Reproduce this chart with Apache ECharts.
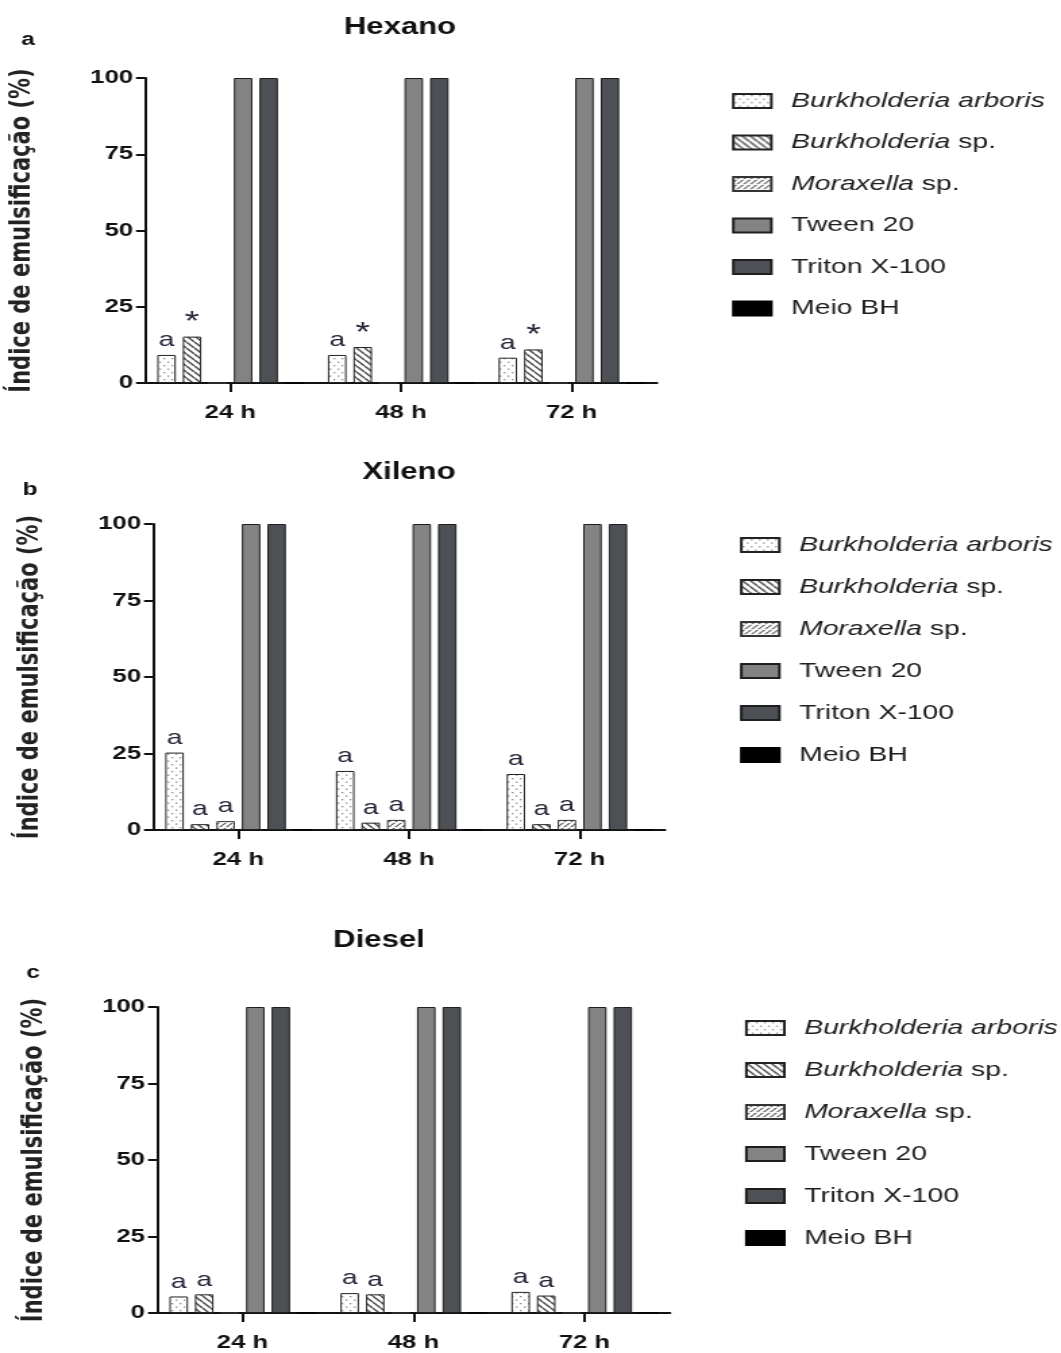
<!DOCTYPE html>
<html>
<head>
<meta charset="utf-8">
<script src="https://cdn.jsdelivr.net/npm/echarts@6/dist/echarts.min.js"></script>
<style>
html,body{margin:0;padding:0;background:#fff;overflow:hidden;}
#wrap{width:1061px;height:1353px;overflow:hidden;}
#chart{height:1353px;transform-origin:0 0;}
</style>
</head>
<body>
<div id="wrap"><div id="chart"></div></div>
<script>
// ---------- DATA ----------
const categories = ['24 h', '48 h', '72 h'];
const seriesNames = ['Burkholderia arboris', 'Burkholderia sp.', 'Moraxella sp.', 'Tween 20', 'Triton X-100', 'Meio BH'];
const panelTitles = ['Hexano', 'Xileno', 'Diesel'];
const panelLetters = ['a', 'b', 'c'];
const yTicks = [0, 25, 50, 75, 100];
const yAxisTitle = 'Índice de emulsificação (%)';

// Hexano
const hexArboris = [9.2, 9.2, 8.3];
const hexBurkSp = [15.2, 11.8, 11.0];
const hexMoraxella = [0, 0, 0];
const hexTween = [100, 100, 100];
const hexTriton = [100, 100, 100];
const hexMeio = [0, 0, 0];
const hexArborisMarks = ['a', 'a', 'a'];
const hexBurkSpMarks = ['*', '*', '*'];
const hexMoraxellaMarks = ['', '', ''];

// Xileno
const xilArboris = [25.3, 19.3, 18.3];
const xilBurkSp = [1.9, 2.4, 1.9];
const xilMoraxella = [2.9, 3.3, 3.3];
const xilTween = [100, 100, 100];
const xilTriton = [100, 100, 100];
const xilMeio = [0, 0, 0];
const xilArborisMarks = ['a', 'a', 'a'];
const xilBurkSpMarks = ['a', 'a', 'a'];
const xilMoraxellaMarks = ['a', 'a', 'a'];

// Diesel
const dieArboris = [5.4, 6.5, 6.9];
const dieBurkSp = [6.1, 6.1, 5.7];
const dieMoraxella = [0, 0, 0];
const dieTween = [100, 100, 100];
const dieTriton = [100, 100, 100];
const dieMeio = [0, 0, 0];
const dieArborisMarks = ['a', 'a', 'a'];
const dieBurkSpMarks = ['a', 'a', 'a'];
const dieMoraxellaMarks = ['', '', ''];

// ---------- LAYOUT (the whole figure is horizontally stretched like the source) ----------
const SX = 1.35;
const CW = 1061 / SX;
const px = v => v / SX;
document.getElementById('chart').style.width = CW + 'px';
document.getElementById('chart').style.transform = 'scaleX(' + SX + ')';

const FONT = '"Liberation Sans", Arial, sans-serif';

// ---------- PATTERNS ----------
function makeTile(w, h, draw) {
  const c = document.createElement('canvas');
  c.width = w; c.height = h;
  const g = c.getContext('2d');
  g.fillStyle = '#ffffff'; g.fillRect(0, 0, w, h);
  draw(g);
  return c;
}
const dotTile = makeTile(6, 7, g => {
  g.fillStyle = '#8a8a8a';
  g.fillRect(1, 1, 1.3, 1.3);
  g.fillRect(4, 4.5, 1.3, 1.3);
});
const backTile = makeTile(6, 6, g => {
  g.strokeStyle = '#4a4a4a'; g.lineWidth = 1.4;
  for (let i = -1; i <= 1; i++) {
    g.beginPath(); g.moveTo(i * 6, 0); g.lineTo(i * 6 + 6, 6); g.stroke();
  }
});
const fwdTile = makeTile(5, 5, g => {
  g.strokeStyle = '#555'; g.lineWidth = 1.2;
  for (let i = -1; i <= 1; i++) {
    g.beginPath(); g.moveTo(i * 5, 5); g.lineTo(i * 5 + 5, 0); g.stroke();
  }
  g.fillStyle = '#fff'; g.fillRect(0, 2, 5, 0.8);
});

const fills = [
  { image: dotTile, repeat: 'repeat' },
  { image: backTile, repeat: 'repeat' },
  { image: fwdTile, repeat: 'repeat' },
  '#838383',
  '#4d5155',
  '#000000'
];
const borders = ['#222', '#222', '#333', '#1e1e1e', '#1e1e1e', '#000'];

// ---------- PANELS ----------
const panels = [
  { data: [hexArboris, hexBurkSp, hexMoraxella, hexTween, hexTriton, hexMeio],
    marks: [hexArborisMarks, hexBurkSpMarks, hexMoraxellaMarks],
    grid: { left: 145, width: 512, top: 78, height: 305 },
    title: { x: 400, y: 28 }, letter: { x: 28, y: 40 },
    legend: { left: 732, top: 89, gap: 17.5 } },
  { data: [xilArboris, xilBurkSp, xilMoraxella, xilTween, xilTriton, xilMeio],
    marks: [xilArborisMarks, xilBurkSpMarks, xilMoraxellaMarks],
    grid: { left: 153, width: 512, top: 524, height: 306 },
    title: { x: 409, y: 473 }, letter: { x: 30, y: 490 },
    legend: { left: 740, top: 533, gap: 18 } },
  { data: [dieArboris, dieBurkSp, dieMoraxella, dieTween, dieTriton, dieMeio],
    marks: [dieArborisMarks, dieBurkSpMarks, dieMoraxellaMarks],
    grid: { left: 157, width: 513, top: 1007, height: 306 },
    title: { x: 379, y: 941 }, letter: { x: 33, y: 973 },
    legend: { left: 745, top: 1016, gap: 18 } }
];

const grids = [], xAxes = [], yAxes = [], series = [], legends = [], graphics = [];

panels.forEach((p, pi) => {
  grids.push({ left: px(p.grid.left), width: px(p.grid.width), top: p.grid.top, height: p.grid.height, containLabel: false });
  xAxes.push({
    type: 'category', gridIndex: pi, data: categories,
    axisLine: { show: true, lineStyle: { color: '#111', width: 2 } },
    axisTick: { show: true, alignWithLabel: true, length: 9, lineStyle: { color: '#111', width: 2 } },
    axisLabel: { color: '#111', fontFamily: FONT, fontWeight: 'bold', fontSize: 19, margin: 20 },
    splitLine: { show: false }
  });
  yAxes.push({
    type: 'value', gridIndex: pi, min: 0, max: 100, interval: 25,
    name: yAxisTitle, nameLocation: 'middle', nameRotate: 90, nameGap: 80,
    nameTextStyle: { fontFamily: '"DejaVu Sans", sans-serif', fontWeight: 'bold', fontSize: 21, color: '#222' },
    axisLine: { show: true, lineStyle: { color: '#111', width: 2 } },
    axisTick: { show: true, length: px(9), lineStyle: { color: '#111', width: 2 } },
    axisLabel: { color: '#111', fontFamily: FONT, fontWeight: 'bold', fontSize: 19, margin: px(12),
                 formatter: v => (yTicks.indexOf(v) >= 0 ? String(v) : '') },
    splitLine: { show: false }
  });
  seriesNames.forEach((name, si) => {
    const marks = p.marks[si];
    series.push({
      type: 'bar', name: name, xAxisIndex: pi, yAxisIndex: pi,
      data: p.data[si],
      barWidth: px(18.5), barGap: '38%',
      itemStyle: { color: fills[si], borderColor: borders[si], borderWidth: 1 },
      label: {
        show: !!marks, position: 'top', distance: 4,
        formatter: prm => {
          const m = marks ? marks[prm.dataIndex] : '';
          if (!m) return '';
          return m === '*' ? '{s|*}' : '{a|' + m + '}';
        },
        rich: {
          a: { fontFamily: FONT, fontSize: 21, color: '#26263a' },
          s: { fontFamily: FONT, fontSize: 28, color: '#26263a', lineHeight: 20 }
        }
      },
      emphasis: { disabled: true }
    });
  });
  legends.push({
    orient: 'vertical', left: px(p.legend.left), top: p.legend.top, padding: 0,
    itemWidth: px(38), itemHeight: 14, itemGap: p.legend.gap, icon: 'rect',
    selectedMode: false, data: seriesNames,
    formatter: name => {
      if (name === 'Burkholderia arboris') return '{sp|}{i|Burkholderia arboris}';
      if (name === 'Burkholderia sp.') return '{sp|}{i|Burkholderia} {n|sp.}';
      if (name === 'Moraxella sp.') return '{sp|}{i|Moraxella} {n|sp.}';
      return '{sp|}{n|' + name + '}';
    },
    textStyle: {
      fontFamily: FONT, fontSize: 21, color: '#1e1e1e', lineHeight: 24,
      rich: {
        sp: { width: px(13), fontSize: 21, lineHeight: 24 },
        i: { fontFamily: FONT, fontSize: 21, fontStyle: 'italic', color: '#1e1e1e', lineHeight: 24 },
        n: { fontFamily: FONT, fontSize: 21, color: '#1e1e1e', lineHeight: 24 }
      }
    }
  });
  graphics.push({
    type: 'text', x: px(p.title.x), y: p.title.y,
    style: { text: panelTitles[pi], font: 'bold 23px ' + FONT, fill: '#111', textAlign: 'center', textVerticalAlign: 'middle' }
  });
  graphics.push({
    type: 'text', x: px(p.letter.x), y: p.letter.y,
    style: { text: panelLetters[pi], font: 'bold 18px ' + FONT, fill: '#111', textAlign: 'center', textVerticalAlign: 'middle' }
  });
});

const chart = echarts.init(document.getElementById('chart'), null, { renderer: 'canvas' });
chart.setOption({
  animation: false,
  backgroundColor: '#ffffff',
  grid: grids, xAxis: xAxes, yAxis: yAxes, series: series, legend: legends,
  graphic: graphics, tooltip: { show: false }
});
</script>
</body>
</html>
